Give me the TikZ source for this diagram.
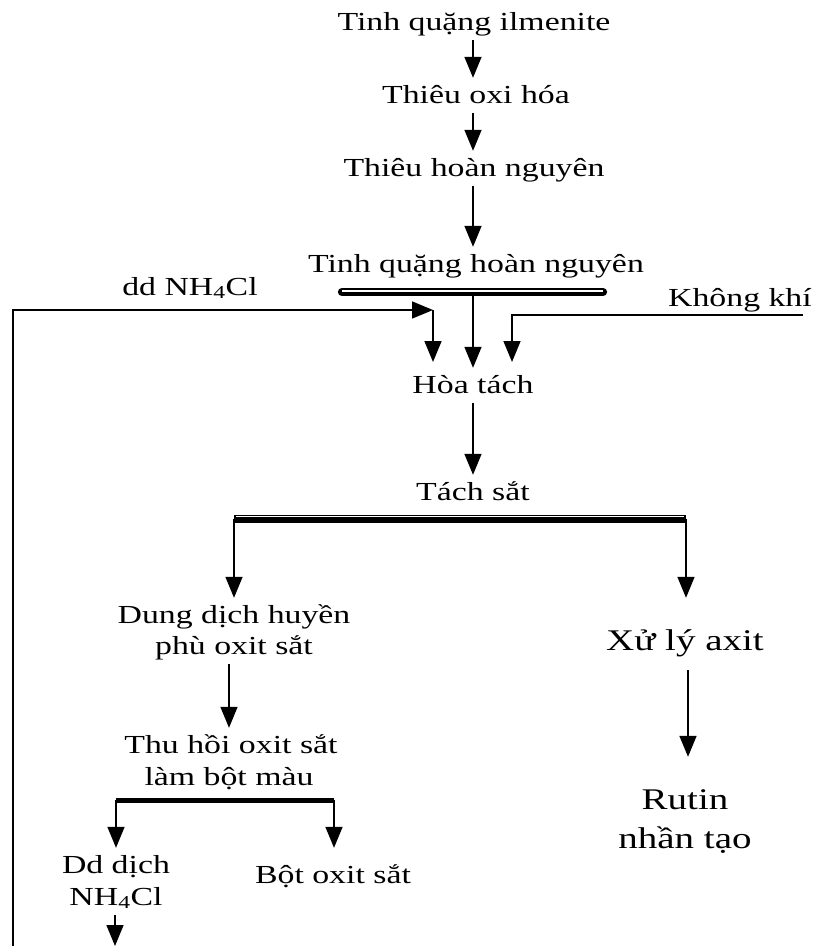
\documentclass[tikz,border=0pt]{standalone}
\usepackage{fontspec}
\setmainfont{Liberation Serif}[FakeStretch=1.3]
\usetikzlibrary{arrows.meta}
\begin{document}
\begin{tikzpicture}[x=1pt,y=-1pt,
  lbl/.style={font=\fontsize{26}{30}\selectfont, inner sep=2pt, anchor=base,
              text height=23pt, text depth=8pt},
  big/.style={font=\fontsize{30}{36}\selectfont, inner sep=2pt, anchor=base,
              text height=27pt, text depth=9pt},
  arr/.style={line width=1.6pt, -{Triangle[length=21pt,width=17pt]}},
  ln/.style={line width=1.6pt},
  barblack/.style={line width=8.3pt, line cap=round},
  barwhite/.style={line width=1.5pt, white},
]
\useasboundingbox (0,0) rectangle (816,946);

\coordinate (axis) at (473,0);

% nodes
\node[lbl] (t1) at (474,30) {Tinh quặng ilmenite};
\node[lbl] (t2) at (476,103) {Thiêu oxi hóa};
\node[lbl] (t3) at (474,176) {Thiêu hoàn nguyên};
\node[lbl] (t4) at (476,272) {Tinh quặng hoàn nguyên};
\node[lbl] (nh) at (190,295) {dd NH\textsubscript{4}Cl};
\node[lbl] (kk) at (740,306) {Không khí};
\node[lbl] (hoa) at (473,393) {Hòa tách};
\node[lbl] (tach) at (473,500) {Tách sắt};
\node[lbl] (dung1) at (234,623) {Dung dịch huyền};
\node[lbl] (dung2) at (234,654) {phù oxit sắt};
\node[lbl] (thu1) at (231,753) {Thu hồi oxit sắt};
\node[lbl] (thu2) at (229,785) {làm bột màu};
\node[lbl] (dd1) at (116,873) {Dd dịch};
\node[lbl] (dd2) at (116,905) {NH\textsubscript{4}Cl};
\node[lbl] (bot) at (333,883) {Bột oxit sắt};
\node[big] (xu) at (685,650) {Xử lý axit};
\node[big] (rut1) at (685,809) {Rutin};
\node[big] (rut2) at (685,848) {nhần tạo};

% bars
\coordinate (b1a) at (342,292);
\coordinate (b1b) at (603,292);
\draw[barblack] (b1a) -- (b1b);
\draw[barwhite] ([yshift=1pt]b1a) -- ([yshift=1pt]b1b);
\coordinate (b1c) at (473,296);

\coordinate (b2l) at (234,519);
\coordinate (b2r) at (686,519);
\draw[line width=8pt] (b2l) -- (b2r);
\draw[barwhite, line width=1.2pt] ([xshift=2pt,yshift=2.2pt]b2l) -- ([xshift=-2pt,yshift=2.2pt]b2r);

\coordinate (b3l) at (116,800);
\coordinate (b3r) at (334,800);
\draw[line width=5pt] (b3l) -- (b3r);

% feeds
\coordinate (ret) at (13,946);
\coordinate (feedL) at (433,310);
\coordinate (tipL) at (433,362);
\coordinate (air) at (803,315);
\coordinate (tipR) at (512,362);
\coordinate (out) at (115,946);

% connectors
\draw[arr] (t1.south -| axis) -- (t2.north -| axis);
\draw[arr] (t2.south -| axis) -- (t3.north -| axis);
\draw[arr] (t3.south -| axis) -- (t4.north -| axis);
\draw[arr] (b1c) -- (b1c |- hoa.north);
\draw[arr] (ret) |- (feedL);
\draw[arr] (feedL) -- (tipL);
\draw[arr] (air) -| (tipR);
\draw[arr] (hoa.south) -- (tach.north);
\draw[arr] (b2l) -- (b2l |- dung1.north);
\draw[arr] (b2r) -- (b2r |- dung1.north);
\draw[arr] ([xshift=-5pt]dung2.south) -- ([xshift=-2pt]thu1.north);
\draw[arr, shorten <=9pt, shorten >=23pt] ([xshift=3pt]xu.south) -- ([xshift=3pt]xu.south |- rut1.north);
\draw[arr] (b3l) -- (b3l |- dd1.north);
\draw[arr] (b3r) -- (b3r |- dd1.north);
\draw[arr] ([xshift=-1pt]dd2.south) -- (out);
\end{tikzpicture}
\end{document}
